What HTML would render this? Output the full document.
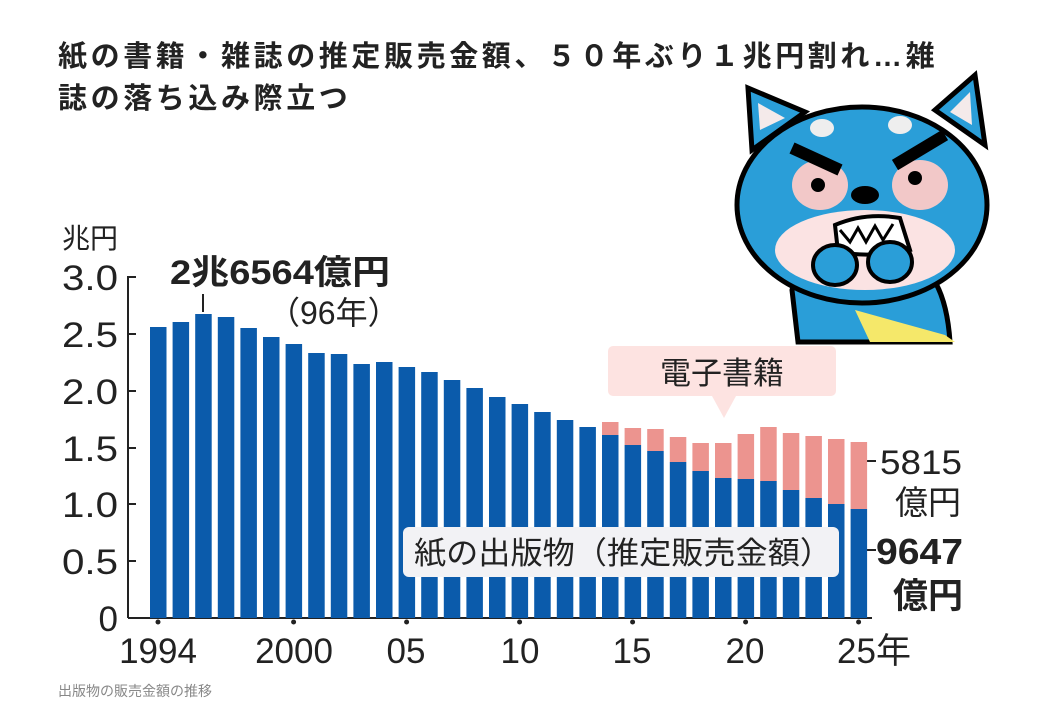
<!DOCTYPE html>
<html><head><meta charset="utf-8"><style>
body{margin:0;background:#fff;width:1041px;height:720px;overflow:hidden;font-family:"Liberation Sans","Noto Sans CJK JP",sans-serif}
</style></head><body>
<svg width="1041" height="720" xmlns="http://www.w3.org/2000/svg" style="position:absolute;left:0;top:0;font-family:'Liberation Sans','Noto Sans CJK JP',sans-serif">
<text x="58" y="66" font-size="29" letter-spacing="3.6" font-weight="bold" fill="#222">紙の書籍・雑誌の推定販売金額、５０年ぶり１兆円割れ…雑</text>
<text x="58" y="108" font-size="29" letter-spacing="3.6" font-weight="bold" fill="#222">誌の落ち込み際立つ</text>
<!-- mascot -->
<g stroke="#000" stroke-width="5">
<path d="M798 342 L792 290 Q800 255 840 255 L900 255 Q945 265 950 342 Z" fill="#2a9ed8"/>
<ellipse cx="862" cy="205" rx="125" ry="98" fill="#2a9ed8"/>
<path d="M752 150 L748 88 L805 112 Z" fill="#2a9ed8"/>
<path d="M935 110 L975 75 L985 145 Z" fill="#2a9ed8"/>
</g>
<path d="M760 130 L758 103 L785 118 Z" fill="#f4eaea"/>
<path d="M950 112 L970 92 L972 125 Z" fill="#f4eaea"/>
<ellipse cx="865" cy="250" rx="90" ry="40" fill="#fbe3e3"/>
<ellipse cx="820" cy="185" rx="28" ry="25" fill="#f2c8c8"/>
<ellipse cx="920" cy="185" rx="28" ry="25" fill="#f2c8c8"/>
<ellipse cx="822" cy="128" rx="12" ry="9" fill="#eee"/>
<ellipse cx="900" cy="125" rx="12" ry="9" fill="#eee"/>
<path d="M792 148 L840 170 M945 135 L895 165" stroke="#000" stroke-width="12"/>
<circle cx="818" cy="185" r="7"/><circle cx="915" cy="178" r="7"/>
<ellipse cx="865" cy="195" rx="14" ry="9"/>
<path d="M835 225 Q865 212 900 218 L910 250 Q870 258 838 252 Z" fill="#fff" stroke="#000" stroke-width="4"/>
<path d="M840 230 L850 242 L858 228 L866 242 L875 226 L883 240 L893 224" fill="none" stroke="#000" stroke-width="3"/>
<ellipse cx="835" cy="265" rx="22" ry="20" fill="#2a9ed8" stroke="#000" stroke-width="4"/>
<ellipse cx="890" cy="262" rx="22" ry="20" fill="#2a9ed8" stroke="#000" stroke-width="4"/>
<path d="M855 310 L945 335 L955 342 L870 342 Z" fill="#f5e86a"/>
<!-- axis -->
<text x="62" y="248" font-size="28" fill="#222">兆円</text>
<g font-size="35" fill="#222" text-anchor="end">
<text x="118" y="290" textLength="56" lengthAdjust="spacingAndGlyphs">3.0</text><text x="118" y="347" textLength="56" lengthAdjust="spacingAndGlyphs">2.5</text><text x="118" y="404" textLength="56" lengthAdjust="spacingAndGlyphs">2.0</text>
<text x="118" y="461" textLength="56" lengthAdjust="spacingAndGlyphs">1.5</text><text x="118" y="517" textLength="56" lengthAdjust="spacingAndGlyphs">1.0</text><text x="118" y="574" textLength="56" lengthAdjust="spacingAndGlyphs">0.5</text><text x="118" y="631">0</text>
</g>
<g stroke="#222" stroke-width="2">
<line x1="128" y1="276" x2="128" y2="618"/>
<line x1="128" y1="277" x2="136" y2="277"/><line x1="128" y1="334" x2="136" y2="334"/>
<line x1="128" y1="391" x2="136" y2="391"/><line x1="128" y1="448" x2="136" y2="448"/>
<line x1="128" y1="504" x2="136" y2="504"/><line x1="128" y1="561" x2="136" y2="561"/>
<line x1="128" y1="618" x2="872" y2="618"/>
<line x1="203" y1="294" x2="203" y2="312"/>
<line x1="863" y1="461" x2="876" y2="461"/><line x1="863" y1="550" x2="876" y2="550"/>
</g>
<g id="bars"></g>
<text x="170" y="284" font-size="34" font-weight="bold" fill="#222" textLength="220" lengthAdjust="spacingAndGlyphs">2兆6564億円</text>
<text x="268" y="324" font-size="32" fill="#222">（96年）</text>
<rect x="608" y="346" width="228" height="50" rx="5" fill="#fde3e1"/>
<path d="M712 396 L724 418 L736 396 Z" fill="#fde3e1"/>
<text x="722" y="384" font-size="31" text-anchor="middle" fill="#222">電子書籍</text>
<rect x="403" y="527" width="436" height="50" rx="6" fill="#f2f2f5"/>
<text x="414" y="564" font-size="31" fill="#222" textLength="418" lengthAdjust="spacingAndGlyphs">紙の出版物（推定販売金額）</text>
<text x="880" y="474" font-size="34" fill="#222" textLength="82" lengthAdjust="spacingAndGlyphs">5815</text>
<text x="895" y="514" font-size="33" fill="#222">億円</text>
<text x="876" y="564" font-size="36" font-weight="bold" fill="#222" textLength="87" lengthAdjust="spacingAndGlyphs">9647</text>
<text x="893" y="608" font-size="35" font-weight="bold" fill="#222">億円</text>
<g font-size="35" fill="#222" text-anchor="middle">
<text x="158" y="663">1994</text><text x="294" y="663">2000</text><text x="406" y="663">05</text>
<text x="520" y="663">10</text><text x="632" y="663">15</text><text x="745" y="663">20</text><text x="874" y="663">25年</text>
</g>
<text x="58" y="696" font-size="14" fill="#888">出版物の販売金額の推移</text>
</svg>
<script>
var blue=[327,322,314,317,328,337,344,353,354,364,362,367,372,380,388,397,404,412,420,427,435,445,451,462,471,478,479,481,490,498,504,509];
var pink=[0,0,0,0,0,0,0,0,0,0,0,0,0,0,0,0,0,0,0,0,422,428,429,437,443,443,434,427,433,436,439,442];
var s='',g=document.getElementById('bars');
for(var i=0;i<32;i++){var x=150+i*22.6;
if(pink[i])s+='<rect x="'+x+'" y="'+pink[i]+'" width="16.5" height="'+(blue[i]-pink[i])+'" fill="#ec948f"/>';
s+='<rect x="'+x+'" y="'+blue[i]+'" width="16.5" height="'+(618-blue[i])+'" fill="#0b5bab"/>';
if(i==0||(i>=6&&(i-1)%5==0))s+='<circle cx="'+(x+8)+'" cy="622" r="2.5" fill="#222"/>';}
g.innerHTML=s;
</script>
</body></html>
